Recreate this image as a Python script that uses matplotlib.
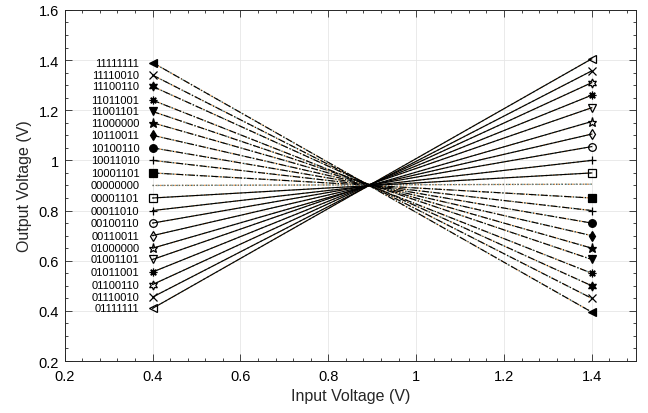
import matplotlib
matplotlib.use("Agg")
import matplotlib.pyplot as plt
from matplotlib.ticker import MultipleLocator

plt.rcParams['font.family'] = ['Liberation Sans', 'DejaVu Sans']

# DAC codes, top to bottom as labelled at Vin = 0.4 V
codes = ["11111111", "11110010", "11100110", "11011001", "11001101",
         "11000000", "10110011", "10100110", "10011010", "10001101",
         "00000000",
         "00001101", "00011010", "00100110", "00110011", "01000000",
         "01001101", "01011001", "01100110", "01110010", "01111111"]

vin = [0.4, 1.4]

# output voltage at Vin = 0.4 V and Vin = 1.4 V for each code
vout_lo = [1.39, 1.34, 1.295, 1.24, 1.195, 1.15, 1.10, 1.05, 1.0, 0.95,
           0.90,
           0.85, 0.80, 0.75, 0.70, 0.65, 0.605, 0.555, 0.505, 0.455, 0.41]
vout_hi = [0.395, 0.45, 0.50, 0.55, 0.605, 0.65, 0.70, 0.75, 0.80, 0.85,
           0.905,
           0.95, 1.0, 1.055, 1.105, 1.155, 1.21, 1.26, 1.31, 1.357, 1.405]

# marker per magnitude (lower 7 bits)
marker_for = {"1111111": "<", "1110010": "x", "1100110": (6, 1, 0),
              "1011001": (8, 2, 0), "1001101": "v", "1000000": "*",
              "0110011": "d", "0100110": "o", "0011010": "+",
              "0001101": "s", "0000000": None}

fig = plt.figure(figsize=(6.48, 4.14), dpi=100)
ax = fig.add_axes([0.100, 0.1256, 0.881, 0.848])

for code, lo, hi in zip(codes, vout_lo, vout_hi):
    y = [lo, hi]
    # corner traces underneath
    ax.plot(vin, y, ':', color='#f0a050', lw=1.0, zorder=2)
    ax.plot(vin, y, ':', color='#70a8b0', lw=1.0, zorder=2, dashes=(1, 2.5))
    m = marker_for[code[1:]]
    ms = 6.5 if m in ("*", (6, 1, 0)) else 5.5
    if m is None:
        ax.plot(vin, y, ':', color='#555555', lw=0.8, zorder=3)
    elif code[0] == "1":
        ax.plot(vin, y, '-.', color='black', lw=0.8, marker=m, ms=ms,
                mfc='black', mec='black', mew=0.9, zorder=3)
    else:
        ax.plot(vin, y, '-', color='black', lw=0.8, marker=m, ms=ms,
                mfc='none', mec='black', mew=0.9, zorder=3)
    ax.text(0.37, lo, code, ha='right', va='center', fontsize=8)

ax.set_xlim(0.2, 1.5)
ax.set_ylim(0.2, 1.6)
ax.xaxis.set_minor_locator(MultipleLocator(0.04))
ax.yaxis.set_minor_locator(MultipleLocator(0.05))
ax.set_xticks([0.2, 0.4, 0.6, 0.8, 1.0, 1.2, 1.4])
ax.set_xticklabels(["0.2", "0.4", "0.6", "0.8", "1", "1.2", "1.4"])
ax.set_yticks([0.2, 0.4, 0.6, 0.8, 1.0, 1.2, 1.4, 1.6])
ax.set_yticklabels(["0.2", "0.4", "0.6", "0.8", "1", "1.2", "1.4", "1.6"])
ax.tick_params(which='both', direction='in', top=True, right=True,
               labelsize=10.5, width=0.6, color='#262626')
ax.tick_params(axis='x', pad=6)
ax.tick_params(axis='y', pad=4)
ax.tick_params(which='major', length=5)
ax.tick_params(which='minor', length=2.5)
ax.grid(True, which='major', color='#e6e6e6', lw=0.6)
ax.set_axisbelow(True)
for s in ax.spines.values():
    s.set_linewidth(0.7)
    s.set_color('#262626')

ax.set_xlabel("Input Voltage (V)", fontsize=11.5, labelpad=3, color='#262626')
ax.set_ylabel("Output Voltage (V)", fontsize=11.5, labelpad=5, color='#262626')

fig.savefig("out.png", dpi=100)
